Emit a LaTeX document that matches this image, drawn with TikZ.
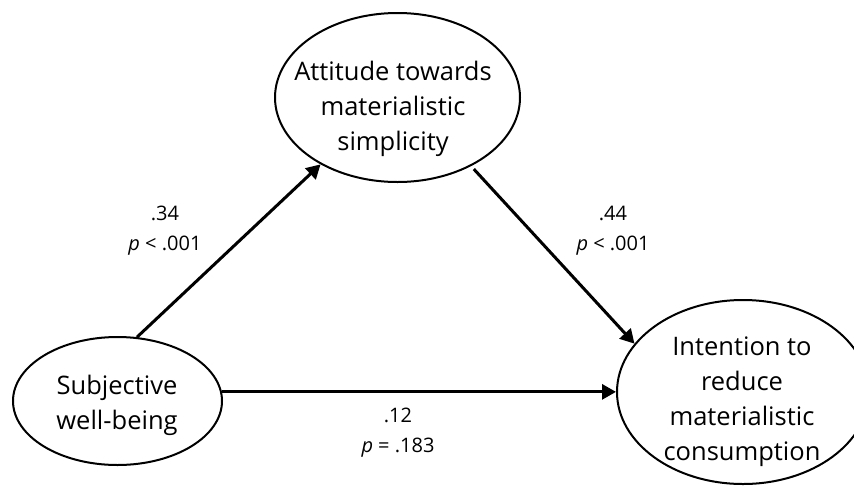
\documentclass[tikz,border=0pt]{standalone}
\usepackage{fontspec}
\setmainfont{Open Sans}
\usetikzlibrary{shapes.geometric,arrows.meta}
\begin{document}
\begin{tikzpicture}[x=1pt,y=-1pt,
  oval/.style={ellipse, draw, line width=2pt, inner sep=0pt},
  maintxt/.style={align=center, inner sep=0pt, font=\fontsize{25.5}{35}\selectfont},
  lbl/.style={align=center, inner sep=0pt, font=\fontsize{20}{30}\selectfont},
  arr/.style={line width=3pt, -{Triangle[length=14pt,width=15pt]}}]
\useasboundingbox (0,0) rectangle (854,485);
% ellipses
\node[oval, minimum width=245pt, minimum height=169pt] (att) at (397.5,97.5) {};
\node[oval, minimum width=209pt, minimum height=128pt] (swb) at (117.5,401) {};
\node[oval, minimum width=252pt, minimum height=184pt] (int) at (743,392) {};
% texts
\node[maintxt] (atttxt) at (393,109) {Attitude towards\\materialistic\\simplicity};
\node[maintxt] (swbtxt) at (117,405) {Subjective\\well-being};
\node[maintxt] (inttxt) at (742,402) {Intention to\\reduce\\materialistic\\consumption};
% arrows
\draw[arr] (swb.73.5) -- (att.221);
\draw[arr, shorten <=4pt] (att.317.5) -- (int.156.6);
\draw[arr] (swb.5) -- (swb.5 -| int.west);
% labels
\node[lbl] (l1) at (165,231) {.34\\\textit{p} < .001};
\node[lbl] (l2) at (613,231) {.44\\\textit{p} < .001};
\node[lbl] (l3) at (398,433) {.12\\\textit{p} = .183};
\end{tikzpicture}
\end{document}
